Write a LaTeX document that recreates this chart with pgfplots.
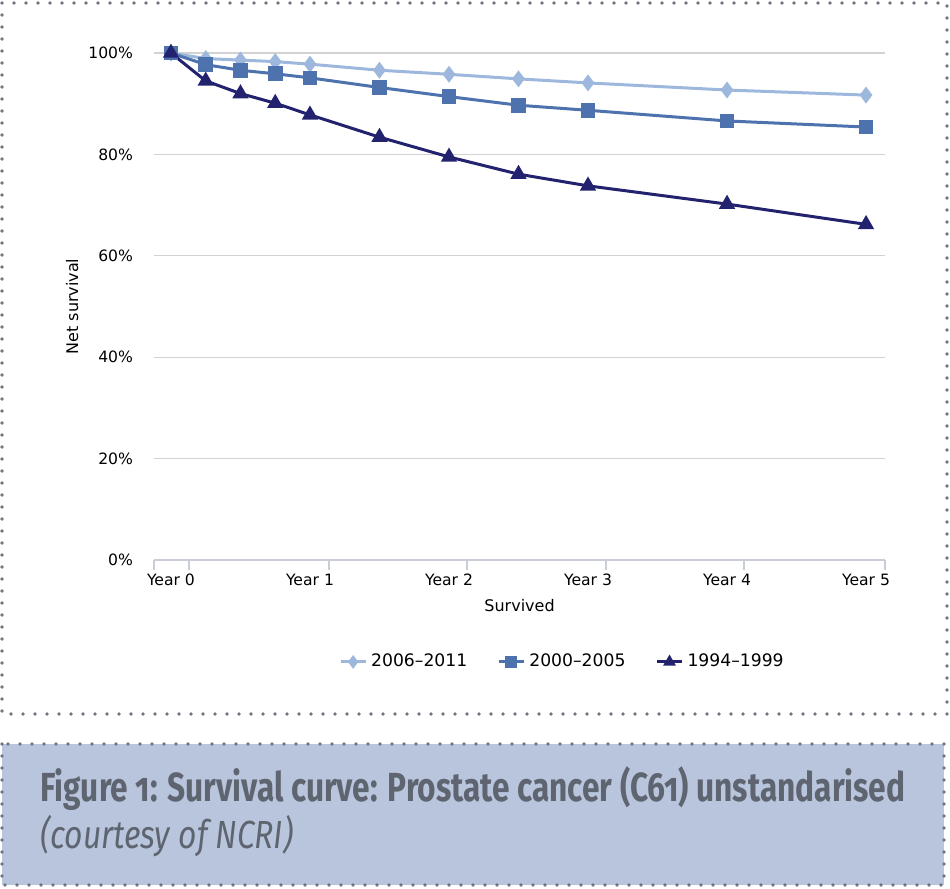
\documentclass[border=0pt]{standalone}
\usepackage{fontspec}
\setmainfont{DejaVu Sans}
\newfontfamily\capfont[Numbers=OldStyle]{Fira Sans}
\usepackage{graphicx}
\usepackage{pgfplots}
\pgfplotsset{compat=1.18}

\definecolor{cA}{HTML}{9DB7DD}
\definecolor{cB}{HTML}{4E72AE}
\definecolor{cC}{HTML}{22226E}
\definecolor{gridc}{HTML}{D2D2D2}
\definecolor{axc}{HTML}{C8CDD6}
\definecolor{capfill}{HTML}{B8C5DD}
\definecolor{captext}{HTML}{5E6570}
\definecolor{dotc}{HTML}{6E7580}

\begin{document}
\begin{tikzpicture}
\begin{scope}[x=0.5pt,y=-0.5pt]
  \path (0,0) rectangle (950,889);
  \draw[dotc, line width=1.8pt, line cap=round, dash pattern=on 0pt off 6pt] (2,3) rectangle (947,714);
  \fill[capfill] (2,744) rectangle (944,885);
  \draw[dotc, line width=1.8pt, line cap=round, dash pattern=on 0pt off 6pt] (2,744) rectangle (944,885);
  \node[anchor=base west, inner sep=0pt, text=captext] at (40,801)
    {\capfont\bfseries\fontsize{20.3}{24}\selectfont\resizebox{432.5pt}{\height}{Figure 1: Survival curve: Prostate cancer (C61) unstandarised}};
  \node[anchor=base west, inner sep=0pt, text=captext] at (40,848)
    {\capfont\itshape\fontsize{19.6}{24}\selectfont\resizebox{126.5pt}{\height}{(courtesy of NCRI)}};
\end{scope}

\begin{axis}[
  at={(77pt,-280pt)}, anchor=south west,
  scale only axis, width=365.5pt, height=253.5pt,
  xmin=-0.122, xmax=5.137, ymin=0, ymax=100,
  separate axis lines,
  axis x line*=bottom, axis y line*=left,
  x axis line style={axc, line width=0.8pt},
  y axis line style={draw=none},
  ytick={0,20,...,100},
  yticklabel={\pgfmathprintnumber{\tick}\%},
  ymajorgrids, grid style={gridc, line width=0.6pt},
  xtick={0,1,2,3,4,5},
  xticklabels={Year 0,Year 1,Year 2,Year 3,Year 4,Year 5},
  major tick length=0pt,
  extra x ticks={-0.122,0.129,1.137,2.13,3.13,4.12,5.137},
  extra x tick labels={},
  extra x tick style={grid=none, major tick length=5pt, tick align=outside,
    tick style={axc, line width=0.8pt}},
  tick label style={font=\fontsize{7.8}{9}\selectfont, text=black},
  xticklabel style={yshift=-3.5pt},
  yticklabel style={xshift=-7pt},
  /pgf/number format/assume math mode=true,
  xlabel={Survived}, ylabel={Net survival},
  label style={font=\fontsize{8}{10}\selectfont},
  xlabel style={at={(axis description cs:0.5,-0.089)}, anchor=center},
  ylabel style={at={(axis description cs:-0.112,0.5)}, anchor=center},
  legend columns=3,
  legend style={draw=none, fill=none, at={(axis description cs:0.56,-0.201)}, anchor=center,
    font=\fontsize{8.6}{10}\selectfont,
    /tikz/every odd column/.append style={column sep=0pt},
    /tikz/every even column/.append style={column sep=13pt}},
  legend image code/.code={\draw[mark repeat=2, mark phase=2, #1, mark size=2.2pt] plot coordinates {(0cm,0cm) (0.22cm,0cm) (0.44cm,0cm)};},
]
\addplot[cA, line width=1.5pt, mark=diamond*, mark size=3pt] coordinates {
(0,100) (0.25,98.9) (0.5,98.6) (0.75,98.3) (1,97.8) (1.5,96.6) (2,95.8) (2.5,94.9) (3,94.1) (4,92.7) (5,91.7)
};
\addplot[cB, line width=1.5pt, mark=square*, mark size=2.9pt] coordinates {
(0,100) (0.25,97.7) (0.5,96.6) (0.75,95.9) (1,95.1) (1.5,93.2) (2,91.4) (2.5,89.7) (3,88.7) (4,86.6) (5,85.4)
};
\addplot[cC, line width=1.5pt, mark=triangle*, mark size=3.2pt] coordinates {
(0,100) (0.25,94.5) (0.5,92.0) (0.75,90.1) (1,87.8) (1.5,83.4) (2,79.5) (2.5,76.1) (3,73.8) (4,70.2) (5,66.2)
};
\legend{2006--2011,2000--2005,1994--1999}
\end{axis}
\end{tikzpicture}
\end{document}
